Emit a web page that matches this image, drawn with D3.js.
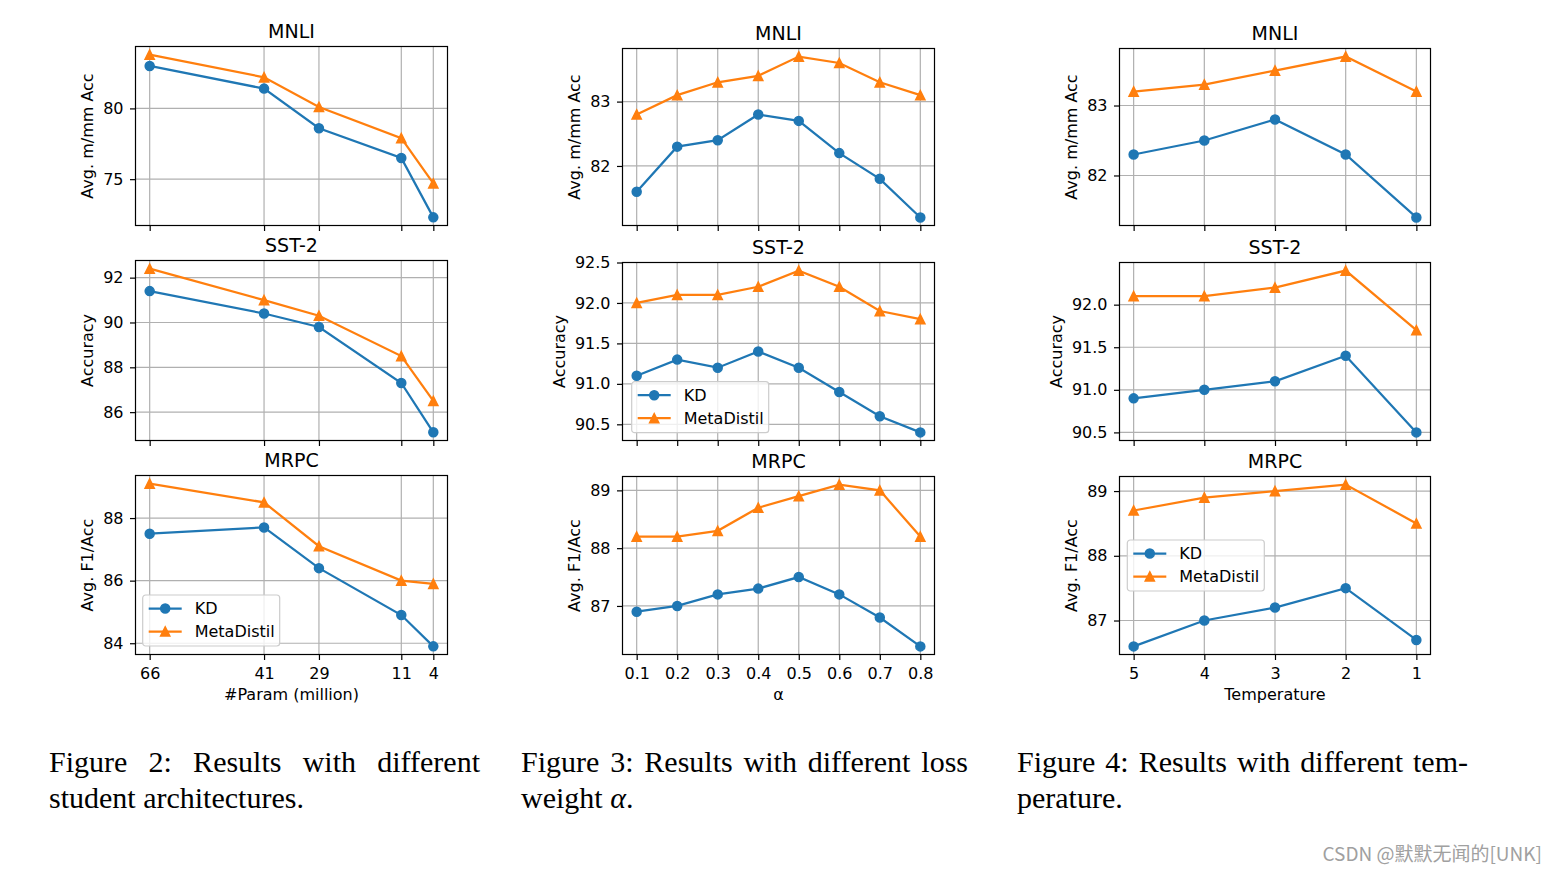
<!DOCTYPE html>
<html><head><meta charset="utf-8">
<script src="https://cdn.jsdelivr.net/npm/d3@7/dist/d3.min.js"></script>
<style>body{margin:0;background:#fff}svg{display:block}</style>
</head><body>
<script>
// ---------------- DATA ----------------
const tasks = ["MNLI", "SST-2", "MRPC"];
const yAxisLabels = ["Avg. m/mm Acc", "Accuracy", "Avg. F1/Acc"];
const seriesNames = ["KD", "MetaDistil"];

// Figure 2: student architectures (#Param, million)
const paramX = [66, 41, 29, 11, 4];
const paramXTickLabels = ["66", "41", "29", "11", "4"];
const paramKD_MNLI   = [83.0, 81.4, 78.6, 76.5, 72.3];
const paramMeta_MNLI = [83.8, 82.2, 80.1, 77.9, 74.7];
const paramKD_SST2   = [91.4, 90.4, 89.8, 87.3, 85.1];
const paramMeta_SST2 = [92.4, 91.0, 90.3, 88.5, 86.5];
const paramKD_MRPC   = [87.5, 87.7, 86.4, 84.9, 83.9];
const paramMeta_MRPC = [89.1, 88.5, 87.1, 86.0, 85.9];
const paramYTicks_MNLI = [75, 80];
const paramYTicks_SST2 = [86, 88, 90, 92];
const paramYTicks_MRPC = [84, 86, 88];
const paramYTickLabels_MNLI = ["75", "80"];
const paramYTickLabels_SST2 = ["86", "88", "90", "92"];
const paramYTickLabels_MRPC = ["84", "86", "88"];

// Figure 3: loss weight alpha
const alphaX = [0.1, 0.2, 0.3, 0.4, 0.5, 0.6, 0.7, 0.8];
const alphaXTickLabels = ["0.1", "0.2", "0.3", "0.4", "0.5", "0.6", "0.7", "0.8"];
const alphaKD_MNLI   = [81.6, 82.3, 82.4, 82.8, 82.7, 82.2, 81.8, 81.2];
const alphaMeta_MNLI = [82.8, 83.1, 83.3, 83.4, 83.7, 83.6, 83.3, 83.1];
const alphaKD_SST2   = [91.1, 91.3, 91.2, 91.4, 91.2, 90.9, 90.6, 90.4];
const alphaMeta_SST2 = [92.0, 92.1, 92.1, 92.2, 92.4, 92.2, 91.9, 91.8];
const alphaKD_MRPC   = [86.9, 87.0, 87.2, 87.3, 87.5, 87.2, 86.8, 86.3];
const alphaMeta_MRPC = [88.2, 88.2, 88.3, 88.7, 88.9, 89.1, 89.0, 88.2];
const alphaYTicks_MNLI = [82, 83];
const alphaYTicks_SST2 = [90.5, 91.0, 91.5, 92.0, 92.5];
const alphaYTicks_MRPC = [87, 88, 89];
const alphaYTickLabels_MNLI = ["82", "83"];
const alphaYTickLabels_SST2 = ["90.5", "91.0", "91.5", "92.0", "92.5"];
const alphaYTickLabels_MRPC = ["87", "88", "89"];

// Figure 4: temperature
const tempX = [5, 4, 3, 2, 1];
const tempXTickLabels = ["5", "4", "3", "2", "1"];
const tempKD_MNLI   = [82.3, 82.5, 82.8, 82.3, 81.4];
const tempMeta_MNLI = [83.2, 83.3, 83.5, 83.7, 83.2];
const tempKD_SST2   = [90.9, 91.0, 91.1, 91.4, 90.5];
const tempMeta_SST2 = [92.1, 92.1, 92.2, 92.4, 91.7];
const tempKD_MRPC   = [86.6, 87.0, 87.2, 87.5, 86.7];
const tempMeta_MRPC = [88.7, 88.9, 89.0, 89.1, 88.5];
const tempYTicks_MNLI = [82, 83];
const tempYTicks_SST2 = [90.5, 91.0, 91.5, 92.0];
const tempYTicks_MRPC = [87, 88, 89];
const tempYTickLabels_MNLI = ["82", "83"];
const tempYTickLabels_SST2 = ["90.5", "91.0", "91.5", "92.0"];
const tempYTickLabels_MRPC = ["87", "88", "89"];

const xAxisTitles = ["#Param (million)", "\u03b1", "Temperature"];
const captionLines = [
  ["Figure 2: Results with different", "student architectures."],
  ["Figure 3: Results with different loss", "weight "],
  ["Figure 4: Results with different tem-", "perature."]
];
const watermark = "CSDN @默默无闻的[UNK]";

// ---------------- LAYOUT / STYLE ----------------
const W = 1556, H = 873;
const C_KD = "#1f77b4", C_META = "#ff7f0e";
const SANS = "'DejaVu Sans', sans-serif";
const FS = 16, TITLE_FS = 19;

const columns = [
  { left: 135.5, right: 447.5, tops: [46.5, 260.5, 475.5], x: paramX, xLabels: paramXTickLabels, reverse: true,
    kd: [paramKD_MNLI, paramKD_SST2, paramKD_MRPC], meta: [paramMeta_MNLI, paramMeta_SST2, paramMeta_MRPC],
    yt: [paramYTicks_MNLI, paramYTicks_SST2, paramYTicks_MRPC], ytl: [paramYTickLabels_MNLI, paramYTickLabels_SST2, paramYTickLabels_MRPC],
    legendRow: 2, legendPos: [7.2, 119.5] },
  { left: 622.5, right: 934.5, tops: [48.5, 262.5, 476.5], x: alphaX, xLabels: alphaXTickLabels, reverse: false,
    kd: [alphaKD_MNLI, alphaKD_SST2, alphaKD_MRPC], meta: [alphaMeta_MNLI, alphaMeta_SST2, alphaMeta_MRPC],
    yt: [alphaYTicks_MNLI, alphaYTicks_SST2, alphaYTicks_MRPC], ytl: [alphaYTickLabels_MNLI, alphaYTickLabels_SST2, alphaYTickLabels_MRPC],
    legendRow: 1, legendPos: [9.2, 119.2] },
  { left: 1119.5, right: 1430.5, tops: [48.5, 262.5, 476.5], x: tempX, xLabels: tempXTickLabels, reverse: true,
    kd: [tempKD_MNLI, tempKD_SST2, tempKD_MRPC], meta: [tempMeta_MNLI, tempMeta_SST2, tempMeta_MRPC],
    yt: [tempYTicks_MNLI, tempYTicks_SST2, tempYTicks_MRPC], ytl: [tempYTickLabels_MNLI, tempYTickLabels_SST2, tempYTickLabels_MRPC],
    legendRow: 2, legendPos: [7.8, 63.5] }
];
const bottoms = [225.5, 440.5, 654.5];

const svg = d3.select("body").append("svg").attr("width", W).attr("height", H)
  .style("font-family", SANS);

function triPath(s) { return `M0,${-s}L${s},${s}L${-s},${s}Z`; }

function drawMarkers(g, pts, kind, color) {
  if (kind === "circle") {
    g.selectAll(null).data(pts).join("circle")
      .attr("cx", d => d[0]).attr("cy", d => d[1]).attr("r", 4.5)
      .attr("fill", color).attr("stroke", color).attr("stroke-width", 1.5);
  } else {
    g.selectAll(null).data(pts).join("path")
      .attr("transform", d => `translate(${d[0]},${d[1]})`).attr("d", triPath(4.6))
      .attr("fill", color).attr("stroke", color).attr("stroke-width", 1.5).attr("stroke-linejoin", "miter");
  }
}

columns.forEach((col, ci) => {
  tasks.forEach((task, ri) => {
    const top = col.tops[ri], bottom = bottoms[ri], left = col.left, right = col.right;
    const g = svg.append("g");
    const xMin = d3.min(col.x), xMax = d3.max(col.x), xPad = (xMax - xMin) * 0.05;
    const x = d3.scaleLinear()
      .domain(col.reverse ? [xMax + xPad, xMin - xPad] : [xMin - xPad, xMax + xPad])
      .range([left, right]);
    const kd = col.kd[ri], meta = col.meta[ri];
    const all = kd.concat(meta);
    const yMin = d3.min(all), yMax = d3.max(all), yPad = (yMax - yMin) * 0.05;
    const y = d3.scaleLinear().domain([yMin - yPad, yMax + yPad]).range([bottom, top]);
    const yt = col.yt[ri], ytl = col.ytl[ri];

    // grid
    g.append("g").selectAll("line").data(col.x).join("line")
      .attr("x1", d => x(d)).attr("x2", d => x(d)).attr("y1", top).attr("y2", bottom)
      .attr("stroke", "#b0b0b0").attr("stroke-width", 1.2);
    g.append("g").selectAll("line").data(yt).join("line")
      .attr("y1", d => y(d)).attr("y2", d => y(d)).attr("x1", left).attr("x2", right)
      .attr("stroke", "#b0b0b0").attr("stroke-width", 1.2);

    // axes
    const showX = ri === 2;
    const xa = g.append("g").attr("transform", `translate(0,${bottom})`)
      .call(d3.axisBottom(x).tickValues(col.x).tickSize(5.5).tickPadding(7.5)
        .tickFormat((d, i) => showX ? col.xLabels[i] : ""));
    const ya = g.append("g").attr("transform", `translate(${left},0)`)
      .call(d3.axisLeft(y).tickValues(yt).tickSize(5.5).tickPadding(6.5)
        .tickFormat((d, i) => ytl[i]));
    [xa, ya].forEach(a => {
      a.select(".domain").remove();
      a.selectAll(".tick line").attr("stroke", "#000").attr("stroke-width", 1.2);
      a.selectAll(".tick text").attr("font-size", FS).attr("fill", "#000").attr("font-family", SANS);
    });

    // lines + markers
    const line = d3.line().x((d, i) => x(col.x[i])).y(d => y(d));
    const lg = g.append("g");
    lg.append("path").attr("d", line(kd)).attr("fill", "none").attr("stroke", C_KD).attr("stroke-width", 2.25);
    drawMarkers(lg, kd.map((v, i) => [x(col.x[i]), y(v)]), "circle", C_KD);
    lg.append("path").attr("d", line(meta)).attr("fill", "none").attr("stroke", C_META).attr("stroke-width", 2.25);
    drawMarkers(lg, meta.map((v, i) => [x(col.x[i]), y(v)]), "tri", C_META);

    // spines
    g.append("rect").attr("x", left).attr("y", top).attr("width", right - left).attr("height", bottom - top)
      .attr("fill", "none").attr("stroke", "#000").attr("stroke-width", 1.2);

    // title
    g.append("text").attr("x", (left + right) / 2).attr("y", top - 9).attr("text-anchor", "middle")
      .attr("font-size", TITLE_FS).text(task);

    // y label
    const bb = ya.node().getBBox();
    const lx = left + bb.x - 10;
    const ly = (top + bottom) / 2;
    g.append("text").attr("transform", `translate(${lx},${ly}) rotate(-90)`).attr("text-anchor", "middle")
      .attr("font-size", FS).text(yAxisLabels[ri]);

    // x label
    if (showX) {
      g.append("text").attr("x", (left + right) / 2).attr("y", bottom + 45).attr("text-anchor", "middle")
        .attr("font-size", FS).text(xAxisTitles[ci]);
    }

    // legend
    if (col.legendRow === ri) {
      const lx0 = left + col.legendPos[0], ly0 = top + col.legendPos[1];
      const leg = g.append("g").attr("transform", `translate(${lx0},${ly0})`);
      leg.append("rect").attr("x", 0).attr("y", 0).attr("width", 137).attr("height", 51).attr("rx", 3)
        .attr("fill", "#fff").attr("fill-opacity", 0.8).attr("stroke", "#cccccc").attr("stroke-width", 1.2);
      const rowsY = [13.5, 36.5];
      [[C_KD, "circle"], [C_META, "tri"]].forEach((s, k) => {
        leg.append("line").attr("x1", 6).attr("x2", 39).attr("y1", rowsY[k]).attr("y2", rowsY[k])
          .attr("stroke", s[0]).attr("stroke-width", 2.25);
        drawMarkers(leg, [[22.5, rowsY[k]]], s[1], s[0]);
        leg.append("text").attr("x", 52).attr("y", rowsY[k]).attr("dy", "0.36em").attr("font-size", FS).text(seriesNames[k]);
      });
    }
  });
});

// captions
const capX = [49, 521, 1017], capW = [431, 447, 451];
const SERIF = "'Liberation Serif', 'Times New Roman', serif";
captionLines.forEach((lines, i) => {
  const t1 = svg.append("text").attr("x", capX[i]).attr("y", 772).attr("font-family", SERIF)
    .attr("font-size", 30).attr("fill", "#000").text(lines[0]);
  const nat = t1.node().getComputedTextLength();
  const spaces = (lines[0].match(/ /g) || []).length;
  if (spaces > 0) t1.attr("word-spacing", (capW[i] - nat) / spaces);
  const t2 = svg.append("text").attr("x", capX[i]).attr("y", 808).attr("font-family", SERIF)
    .attr("font-size", 30).attr("fill", "#000").attr("xml:space", "preserve").text(lines[1]);
  if (i === 1) {
    t2.append("tspan").attr("font-style", "italic").text("\u03b1");
    t2.append("tspan").text(".");
  }
});

// watermark
svg.append("text").attr("x", 1542).attr("y", 861).attr("text-anchor", "end")
  .attr("font-family", "'Noto Sans CJK SC', 'Noto Sans', sans-serif").attr("font-size", 19)
  .attr("fill", "#a0a0a0").text(watermark);
</script>
</body></html>
